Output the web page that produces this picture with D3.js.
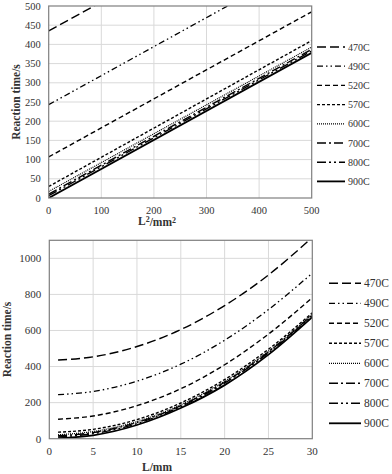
<!DOCTYPE html>
<html>
<head>
<meta charset="utf-8">
<script src="https://cdn.jsdelivr.net/npm/d3@7"></script>
<style>
	body { margin: 0; background: #fff; }
</style>
</head>
<body>
<svg id="canvas" width="392" height="474"></svg>
<script>
// series names, shared by both panels
const seriesNames = ["470C", "490C", "520C", "570C", "600C", "700C", "800C", "900C"];

// top panel: reaction time against L^2, straight lines read at both ends
const areaL2 = [0, 500];
const timeAtL2Zero = [435, 243, 107, 30, 17, 10, 6, 0];
const timeAtL2End = [813, 621, 485, 410, 393, 387, 383, 378];

// bottom panel: reaction time against L
const lengthL = [1, 5, 10, 15, 20, 25, 30];
const time470 = [436, 454, 511, 605, 738, 908, 1116];
const time490 = [244, 262, 319, 413, 546, 716, 918];
const time520 = [108, 126, 183, 277, 410, 580, 782];
const time570 = [36, 52, 106, 198, 328, 496, 698];
const time600 = [22, 40, 95, 188, 318, 486, 690];
const time700 = [16, 34, 90, 183, 313, 481, 686];
const time800 = [10, 28, 84, 178, 308, 476, 682];
const time900 = [3, 19, 76, 170, 297, 466, 674];
const bottomTimes = [time470, time490, time520, time570, time600, time700, time800, time900];

const topYTicks = [0, 50, 100, 150, 200, 250, 300, 350, 400, 450, 500];
const topXTicks = [0, 100, 200, 300, 400, 500];
const bottomYTicks = [0, 200, 400, 600, 800, 1000];
const bottomXTicks = [0, 5, 10, 15, 20, 25, 30];

// line styles
const dashes = ["9,4", "6,3,1.5,3,1.5,3", "5,3", "3,2", "1,1", "9,3,2,3", "9,3,2,3,2,3", null];
const widths = [1.4, 1.3, 1.4, 1.4, 1.2, 1.4, 1.4, 1.8];

const FONT = "Liberation Serif";
const svg = d3.select("#canvas");

function panel(cfg) {
	const x = d3.scaleLinear().domain(cfg.xDomain).range([cfg.left, cfg.right]);
	const y = d3.scaleLinear().domain(cfg.yDomain).range([cfg.bottom, cfg.top]);
	const g = svg.append("g");

	// grid
	g.selectAll(".gx").data(cfg.xTicks.slice(1, -1)).enter().append("line")
		.attr("x1", d => x(d)).attr("x2", d => x(d))
		.attr("y1", cfg.top).attr("y2", cfg.bottom)
		.attr("stroke", "#d9d9d9").attr("stroke-width", 1);
	g.selectAll(".gy").data(cfg.yTicks.filter(d => d > cfg.yDomain[0] && d < cfg.yDomain[1])).enter().append("line")
		.attr("x1", cfg.left).attr("x2", cfg.right)
		.attr("y1", d => y(d)).attr("y2", d => y(d))
		.attr("stroke", "#d9d9d9").attr("stroke-width", 1);

	// series
	g.append("clipPath").attr("id", cfg.id + "clip").append("rect")
		.attr("x", cfg.left).attr("y", cfg.top)
		.attr("width", cfg.right - cfg.left).attr("height", cfg.bottom - cfg.top);
	const line = d3.line().x(d => x(d[0])).y(d => y(d[1])).curve(cfg.curve);
	g.append("g").attr("clip-path", "url(#" + cfg.id + "clip)")
		.selectAll("path").data(cfg.series).enter().append("path")
		.attr("d", line)
		.attr("fill", "none")
		.attr("stroke", "#000")
		.attr("stroke-width", (d, i) => widths[i])
		.attr("stroke-dasharray", (d, i) => dashes[i]);

	// frame
	g.append("rect")
		.attr("x", cfg.left).attr("y", cfg.top)
		.attr("width", cfg.right - cfg.left).attr("height", cfg.bottom - cfg.top)
		.attr("fill", "none").attr("stroke", "#7f7f7f").attr("stroke-width", 1.2);

	// tick labels
	g.selectAll(".ty").data(cfg.yTicks).enter().append("text")
		.attr("x", cfg.left - 8).attr("y", d => y(d)).attr("dy", "0.35em")
		.attr("text-anchor", "end").attr("font-family", FONT)
		.attr("font-size", cfg.tickSize).attr("fill", "#333")
		.text(d => d);
	g.selectAll(".tx").data(cfg.xTicks).enter().append("text")
		.attr("x", d => x(d)).attr("y", cfg.bottom + 12).attr("dy", "0.35em")
		.attr("text-anchor", "middle").attr("font-family", FONT)
		.attr("font-size", cfg.tickSize).attr("fill", "#333")
		.text(d => d);

	// axis titles
	g.append("text")
		.attr("transform", "translate(" + cfg.yTitleX + "," + ((cfg.top + cfg.bottom) / 2) + ") rotate(-90)")
		.attr("text-anchor", "middle").attr("dy", "0.35em").attr("font-family", FONT)
		.attr("font-size", 11.5).attr("font-weight", "bold").attr("fill", "#333")
		.text("Reaction time/s");
	const xt = g.append("text")
		.attr("x", 157).attr("y", cfg.xTitleY).attr("dy", "0.35em")
		.attr("text-anchor", "middle").attr("font-family", FONT)
		.attr("font-size", 11.5).attr("font-weight", "bold").attr("fill", "#333");
	cfg.xTitle(xt);

	// legend
	const leg = g.selectAll(".leg").data(seriesNames).enter().append("g")
		.attr("transform", (d, i) => "translate(" + cfg.legX + "," + (cfg.legY + i * cfg.legStep) + ")");
	leg.append("line")
		.attr("x1", 0).attr("x2", cfg.legLen).attr("y1", 0).attr("y2", 0)
		.attr("stroke", "#000")
		.attr("stroke-width", (d, i) => widths[i])
		.attr("stroke-dasharray", (d, i) => dashes[i]);
	leg.append("text")
		.attr("x", cfg.legLen + 3).attr("y", 0).attr("dy", "0.35em")
		.attr("font-family", FONT)
		.attr("font-size", cfg.legSize).attr("fill", "#333")
		.text(d => d);
}

panel({
	id: "top",
	left: 48.7, right: 311.7, top: 6, bottom: 198,
	xDomain: [0, 500], yDomain: [0, 500],
	xTicks: topXTicks, yTicks: topYTicks,
	series: seriesNames.map((s, i) => [[areaL2[0], timeAtL2Zero[i]], [areaL2[1], timeAtL2End[i]]]),
	curve: d3.curveLinear,
	tickSize: 10.5,
	yTitleX: 16,
	xTitleY: 221,
	xTitle: t => {
		t.append("tspan").text("L");
		t.append("tspan").attr("dy", "-0.4em").attr("font-size", 8).text("2");
		t.append("tspan").attr("dy", "0.4em").text("/mm");
		t.append("tspan").attr("dy", "-0.4em").attr("font-size", 8).text("2");
	},
	legX: 317, legY: 47, legStep: 19.2, legLen: 28, legSize: 10
});

panel({
	id: "bottom",
	left: 49.3, right: 312.3, top: 240.3, bottom: 438.7,
	xDomain: [0, 30], yDomain: [0, 1100],
	xTicks: bottomXTicks, yTicks: bottomYTicks,
	series: bottomTimes.map(arr => arr.map((v, j) => [lengthL[j], v])),
	curve: d3.curveMonotoneX,
	tickSize: 11,
	yTitleX: 7,
	xTitleY: 467,
	xTitle: t => t.text("L/mm"),
	legX: 329, legY: 283.3, legStep: 20, legLen: 32, legSize: 11.5
});
</script>
</body>
</html>
